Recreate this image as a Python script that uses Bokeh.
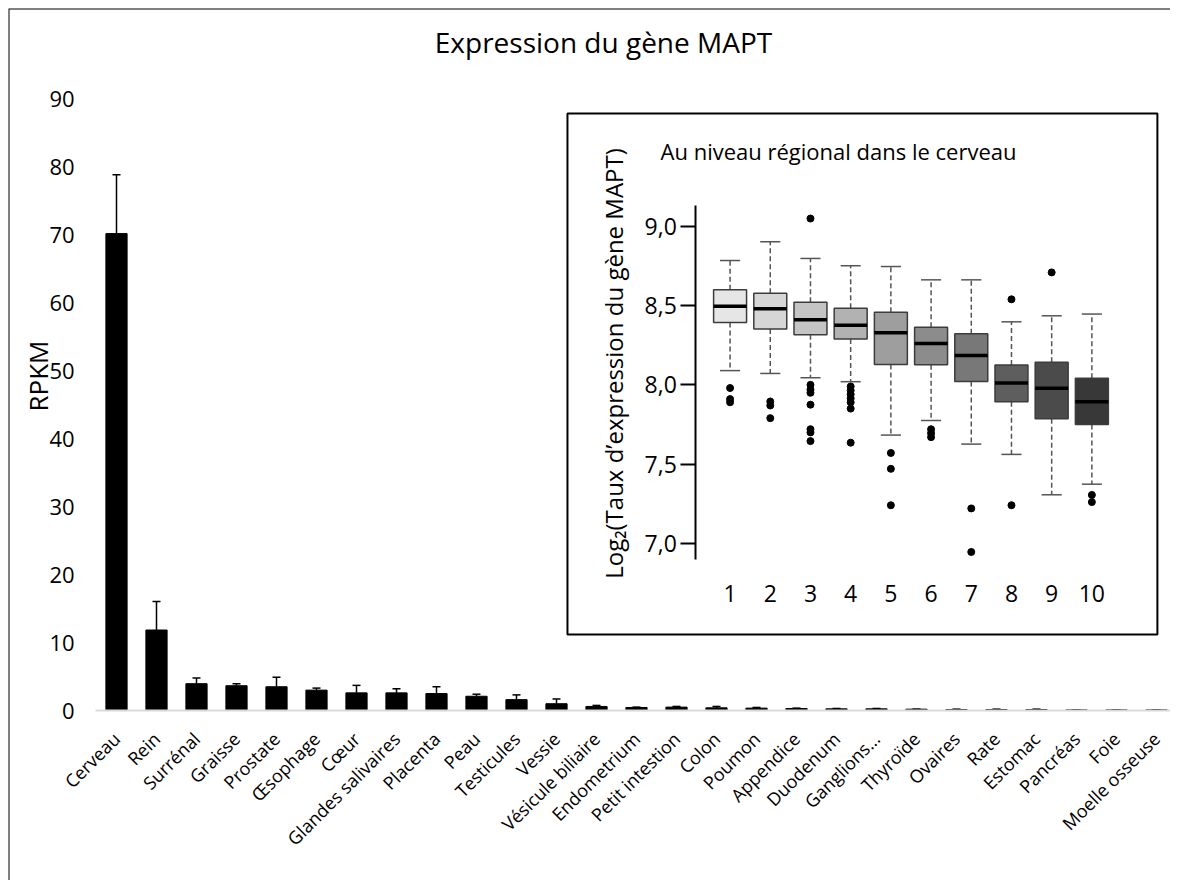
from math import pi
import numpy as np
from bokeh.plotting import figure
from bokeh.models import (Range1d, LinearAxis, FixedTicker, CustomJSTickFormatter,
                          Label, Whisker, TeeHead, ColumnDataSource, BoxAnnotation)
from bokeh.embed import file_html
from bokeh.resources import INLINE

# ---------------- data: main bar chart ----------------
tissues = ["Cerveau", "Rein", "Surrénal", "Graisse", "Prostate", "Œsophage", "Cœur",
           "Glandes salivaires", "Placenta", "Peau", "Testicules", "Vessie",
           "Vésicule biliaire", "Endometrium", "Petit intestion", "Colon", "Poumon",
           "Appendice", "Duodenum", "Ganglions...", "Thyroïde", "Ovaires", "Rate",
           "Estomac", "Pancréas", "Foie", "Moelle osseuse"]
rpkm = [70.2, 11.85, 3.95, 3.65, 3.5, 3.0, 2.6, 2.6, 2.5, 2.1, 1.6, 1.0,
        0.6, 0.45, 0.5, 0.4, 0.35, 0.3, 0.25, 0.25, 0.2, 0.15, 0.15, 0.15, 0.1, 0.1, 0.1]
rpkm_err = [8.65, 4.2, 0.85, 0.3, 1.4, 0.3, 1.1, 0.6, 1.0, 0.3, 0.7, 0.7,
            0.15, 0.05, 0.1, 0.2, 0.1, 0.05, 0.05, 0.05, 0.0, 0.05, 0.05, 0.05, 0.0, 0.0, 0.0]
rpkm_ticks = [0, 10, 20, 30, 40, 50, 60, 70, 80, 90]

# ---------------- data: inset boxplot ----------------
regions = [1, 2, 3, 4, 5, 6, 7, 8, 9, 10]
whisk_low = [8.09, 8.072, 8.045, 8.02, 7.683, 7.775, 7.626, 7.561, 7.306, 7.373]
q1 = [8.394, 8.352, 8.316, 8.289, 8.129, 8.127, 8.021, 7.893, 7.786, 7.75]
median = [8.497, 8.48, 8.411, 8.377, 8.329, 8.261, 8.186, 8.011, 7.979, 7.893]
q3 = [8.60, 8.579, 8.522, 8.484, 8.459, 8.364, 8.322, 8.125, 8.143, 8.042]
whisk_high = [8.785, 8.903, 8.798, 8.752, 8.747, 8.663, 8.663, 8.398, 8.436, 8.447]
outlier_region = [1, 1, 1,
                  2, 2, 2,
                  3, 3, 3, 3, 3, 3, 3, 3,
                  4, 4, 4, 4, 4, 4, 4,
                  5, 5, 5,
                  6, 6, 6,
                  7, 7,
                  8, 8,
                  9,
                  10, 10]
outlier_value = [7.98, 7.91, 7.89,
                 7.895, 7.87, 7.79,
                 9.05, 8.00, 7.97, 7.95, 7.875, 7.72, 7.70, 7.645,
                 7.99, 7.965, 7.94, 7.915, 7.89, 7.85, 7.635,
                 7.57, 7.47, 7.24,
                 7.72, 7.695, 7.67,
                 7.22, 6.945,
                 8.54, 7.24,
                 8.71,
                 7.305, 7.26]
box_colors = ["#e6e6e6", "#d6d6d6", "#c4c4c4", "#b2b2b2", "#9e9e9e",
              "#8c8c8c", "#787878", "#5e5e5e", "#4b4b4b", "#383838"]
inset_ticks = [7.0, 7.5, 8.0, 8.5, 9.0]

FONT = "Open Sans"

p = figure(width=1170, height=880,
           x_range=Range1d(-2.7, 26.35), y_range=Range1d(-25.02, 103.33),
           x_axis_type=None, y_axis_type=None,
           toolbar_location=None, output_backend="svg",
           min_border_left=8, min_border_top=8, min_border_right=0, min_border_bottom=0,
           background_fill_color="white", border_fill_color="white")
p.outline_line_color = None
p.extra_x_ranges = {"ix": Range1d(-16.95, 11.956)}
p.extra_y_ranges = {"iy": Range1d(4.871, 10.376)}

# outer frame: only its top and left edges fall inside the picture
p.add_layout(BoxAnnotation(left=-2.7, right=60, top=103.33, bottom=-200,
                           fill_color=None, line_color="black", line_width=2,
                           line_alpha=1.0, level="underlay"))

# title
p.add_layout(Label(x=12.175, y=98.37, text="Expression du gène MAPT",
                   text_align="center", text_baseline="alphabetic",
                   text_font=FONT, text_font_size="28px", text_color="black"))

# ---------------- main bars ----------------
idx = np.arange(len(tissues))
src = ColumnDataSource(dict(x=idx, top=rpkm, upper=np.array(rpkm) + np.array(rpkm_err)))
p.vbar(x="x", top="top", width=0.53, source=src, fill_color="black", line_color="black")
p.add_layout(Whisker(source=src, base="x", lower="top", upper="upper", dimension="height",
                     line_color="black", line_width=1.5,
                     upper_head=TeeHead(size=8, line_color="black", line_width=1.5),
                     lower_head=None))

xax = LinearAxis(fixed_location=0,
                 ticker=FixedTicker(ticks=list(idx)),
                 formatter=CustomJSTickFormatter(args=dict(names=tissues),
                                                 code="return names[Math.round(tick)]"),
                 major_label_orientation=pi / 4,
                 axis_line_color="#d9d9d9", axis_line_width=2,
                 major_tick_line_color=None, minor_tick_line_color=None,
                 major_label_standoff=19, bounds=(-0.52, 26.35),
                 major_label_text_font=FONT, major_label_text_font_size="18px",
                 major_label_text_color="black")
p.add_layout(xax, "below")

yax = LinearAxis(fixed_location=-0.52,
                 ticker=FixedTicker(ticks=rpkm_ticks),
                 bounds=(0, 98.4),
                 axis_line_color=None, major_tick_line_color=None, minor_tick_line_color=None,
                 major_label_standoff=15,
                 major_label_text_font=FONT, major_label_text_font_size="22px",
                 major_label_text_color="black",
                 axis_label="RPKM", axis_label_standoff=-10,
                 axis_label_text_font=FONT, axis_label_text_font_size="26px",
                 axis_label_text_font_style="normal", axis_label_text_color="black")
p.add_layout(yax, "left")

# ---------------- inset ----------------
p.add_layout(BoxAnnotation(left=-3.045, right=11.63, top=9.713, bottom=6.424,
                           x_range_name="ix", y_range_name="iy",
                           fill_color=None, line_color="black", line_width=2,
                           line_alpha=1.0, level="underlay"))
p.add_layout(Label(x=3.697, y=9.479, x_range_name="ix", y_range_name="iy",
                   text="Au niveau régional dans le cerveau",
                   text_align="center", text_baseline="alphabetic",
                   text_font=FONT, text_font_size="22px", text_color="black"))

r = np.array(regions, dtype=float)
kw = dict(x_range_name="ix", y_range_name="iy")
p.segment(x0=r, x1=r, y0=q3, y1=whisk_high, line_color="#555555", line_width=1.5,
          line_dash="5 3", **kw)
p.segment(x0=r, x1=r, y0=q1, y1=whisk_low, line_color="#555555", line_width=1.5,
          line_dash="5 3", **kw)
p.segment(x0=r - 0.25, x1=r + 0.25, y0=whisk_high, y1=whisk_high,
          line_color="#555555", line_width=1.5, **kw)
p.segment(x0=r - 0.25, x1=r + 0.25, y0=whisk_low, y1=whisk_low,
          line_color="#555555", line_width=1.5, **kw)
p.vbar(x=r, width=0.82, bottom=q1, top=q3, fill_color=box_colors,
       line_color="#3c3c3c", line_width=1.5, **kw)
p.segment(x0=r - 0.41, x1=r + 0.41, y0=median, y1=median,
          line_color="black", line_width=3.5, **kw)
p.scatter(x=outlier_region, y=outlier_value, size=7, color="black", **kw)

iyax = LinearAxis(x_range_name="ix", y_range_name="iy", fixed_location=0.147,
                  ticker=FixedTicker(ticks=inset_ticks),
                  formatter=CustomJSTickFormatter(code="return tick.toFixed(1).replace('.', ',')"),
                  bounds=(6.895, 9.134),
                  axis_line_color="black", axis_line_width=2,
                  major_tick_line_color="black", major_tick_line_width=2,
                  major_tick_out=15, major_tick_in=0,
                  minor_tick_line_color=None,
                  major_label_standoff=4,
                  major_label_text_font=FONT, major_label_text_font_size="23px",
                  major_label_text_color="black")
p.add_layout(iyax, "left")

# label-only axis carrying the inset's y title
iylab = LinearAxis(x_range_name="ix", y_range_name="iy", fixed_location=0.147,
                   ticker=FixedTicker(ticks=[]), bounds=(7.0, 9.27),
                   axis_line_color=None, major_tick_line_color=None,
                   minor_tick_line_color=None,
                   axis_label="Log₂(Taux d’expression du gène MAPT)",
                   axis_label_standoff=66,
                   axis_label_text_font=FONT, axis_label_text_font_size="24px",
                   axis_label_text_font_style="normal", axis_label_text_color="black")
p.add_layout(iylab, "left")

ixax = LinearAxis(x_range_name="ix", y_range_name="iy", fixed_location=6.796,
                  ticker=FixedTicker(ticks=regions),
                  axis_line_color=None, major_tick_line_color=None, minor_tick_line_color=None,
                  major_label_standoff=3,
                  major_label_text_font=FONT, major_label_text_font_size="23px",
                  major_label_text_color="black")
p.add_layout(ixax, "below")

open("out.html", "w").write(file_html(p, INLINE))
